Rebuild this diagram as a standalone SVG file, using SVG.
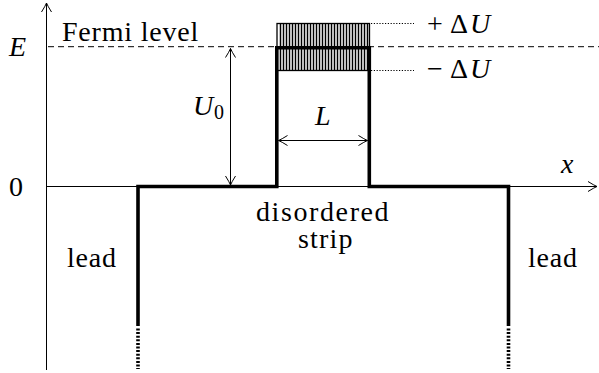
<svg xmlns="http://www.w3.org/2000/svg" width="599" height="373" viewBox="0 0 599 373">
<defs>
<marker id="ah" markerUnits="userSpaceOnUse" markerWidth="14" markerHeight="14" refX="0" refY="0" viewBox="-11 -7 13 14" orient="auto-start-reverse" overflow="visible">
<path d="M-9,-5 Q-3,-1.2 0,0 Q-3,1.2 -9,5" fill="none" stroke="#000" stroke-width="1"/>
</marker>
</defs>

<g id="connectors" stroke="#000" stroke-width="1" fill="none">
<path id="y-axis" d="M46.5,370 V3" marker-end="url(#ah)"/>
<path id="x-axis" d="M46.5,186.5 H597" marker-end="url(#ah)"/>
<path id="fermi-line" stroke-dasharray="6 4" d="M48,46.7 H599"/>
<path id="u0-arrow" d="M230.5,48.5 V185" marker-start="url(#ah)" marker-end="url(#ah)"/>
<path id="l-arrow" d="M278.5,140.5 H367.5" marker-start="url(#ah)" marker-end="url(#ah)"/>
<path id="plus-du-line" stroke-dasharray="1.2 1.6" d="M371,23.5 H414"/>
<path id="minus-du-line" stroke-dasharray="1.2 1.6" d="M371,70.5 H414"/>
</g>

<g id="disorder-band" stroke="#000" fill="none">
<path stroke-width="1.5" d="M280.5,23V71M283.5,23V71M286.5,23V71M289.5,23V71M292.5,23V71M295.5,23V71M298.5,23V71M301.5,23V71M304.5,23V71M307.5,23V71M310.5,23V71M313.5,23V71M316.5,23V71M319.5,23V71M322.5,23V71M325.5,23V71M328.5,23V71M331.5,23V71M334.5,23V71M337.5,23V71M340.5,23V71M343.5,23V71M346.5,23V71M349.5,23V71M352.5,23V71M355.5,23V71M358.5,23V71M361.5,23V71M364.5,23V71M367.5,23V71"/>
<rect x="277" y="23.5" width="92.5" height="47" stroke-width="1.3"/>
</g>

<g id="potential-profile" stroke="#000" stroke-width="3.6" fill="none">
<path d="M138,326 V186.5 H276.8 V47.8 H369.3 V186.5 H508.5 V326"/>
<path stroke-dasharray="2 1.6" d="M138,328.5 V369"/>
<path stroke-dasharray="2 1.6" d="M508.5,328.5 V369"/>
</g>

<g id="labels" font-family="Liberation Serif" font-size="28">
<text id="label-E" font-style="italic" x="9" y="56">E</text>
<text id="label-fermi" x="62" y="41" letter-spacing="0.8">Fermi level</text>
<text id="label-zero" x="9" y="196">0</text>
<text id="label-x" font-style="italic" x="561" y="173">x</text>
<text id="label-U" font-style="italic" x="193" y="115">U</text>
<text id="label-U-sub" font-size="20" x="214" y="119">0</text>
<text id="label-L" font-style="italic" x="315" y="125">L</text>
<text id="label-plus" x="427" y="33">+</text>
<text id="label-plus-delta" x="450" y="33">Δ</text>
<text id="label-plus-U" font-style="italic" x="470" y="33">U</text>
<text id="label-minus" x="427" y="78">−</text>
<text id="label-minus-delta" x="450" y="78">Δ</text>
<text id="label-minus-U" font-style="italic" x="470" y="78">U</text>
<text id="label-disordered" x="256" y="221" letter-spacing="1.6">disordered</text>
<text id="label-strip" x="298" y="248" letter-spacing="1.2">strip</text>
<text id="label-lead-left" x="67" y="267" letter-spacing="0.8">lead</text>
<text id="label-lead-right" x="528" y="267" letter-spacing="0.8">lead</text>
</g>
</svg>
